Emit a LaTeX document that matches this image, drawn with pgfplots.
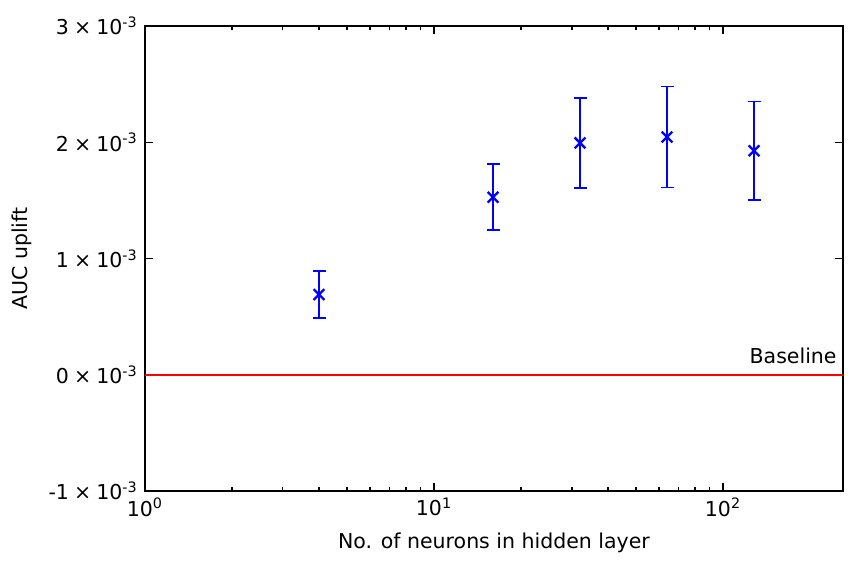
\documentclass[border=0pt]{standalone}
\usepackage{pgfplots}
\pgfplotsset{compat=1.18}
\usepackage{fontspec}
\setmainfont{DejaVu Sans}
\pgfplotstableread{
x y e
4 0.69 0.205
16 1.527 0.284
32 1.994 0.387
64 2.045 0.435
128 1.927 0.424
}\datatable
\newcommand{\tl}[1]{#1\hspace{0.25em}×\hspace{0.25em}10\textsuperscript{-3}}
\begin{document}
\fontsize{10.25}{12.3}\selectfont
\begin{tikzpicture}
\useasboundingbox (-72.5pt,-39pt) rectangle (357pt,245.5pt);
\begin{axis}[
  xmode=log, scale only axis, width=349pt, height=232.5pt,
  xmin=1, xmax=260, ymin=-1, ymax=3,
  xtick={1,10,100},
  xticklabels={10\textsuperscript{0},10\textsuperscript{1},10\textsuperscript{2}},
  ytick={-1,0,1,2,3},
  yticklabels={\tl{-1},\tl{0},\tl{1},\tl{2},\tl{3}},
  tick align=inside, major tick length=4pt, minor tick length=2pt,
  axis line style={line width=0.85pt},
  every tick/.style={black, line width=0.6pt},
  xlabel={No. of neurons in hidden layer},
  ylabel={AUC uplift},
  every axis x label/.style={at={(rel axis cs:0.5,0)}, anchor=center, yshift=-26pt},
  every axis y label/.style={at={(rel axis cs:0,0.5)}, anchor=center, xshift=-61.5pt, rotate=90},
  clip=false,
]
\addplot[red, line width=1pt] coordinates {(1,0) (260,0)};
\addplot[blue, line width=1.2pt, mark=x, mark size=3.8pt, only marks,
  error bars/.cd, y dir=both, y explicit,
  error bar style={line width=1.1pt},
  error mark options={rotate=90, mark size=3.25pt, line width=0.9pt}]
  table[x=x, y=y, y error=e] {\datatable};
\node[anchor=base east, inner sep=0pt, xshift=-3pt, yshift=5.5pt] at (axis cs:260,0) {Baseline};
\end{axis}
\end{tikzpicture}
\end{document}
